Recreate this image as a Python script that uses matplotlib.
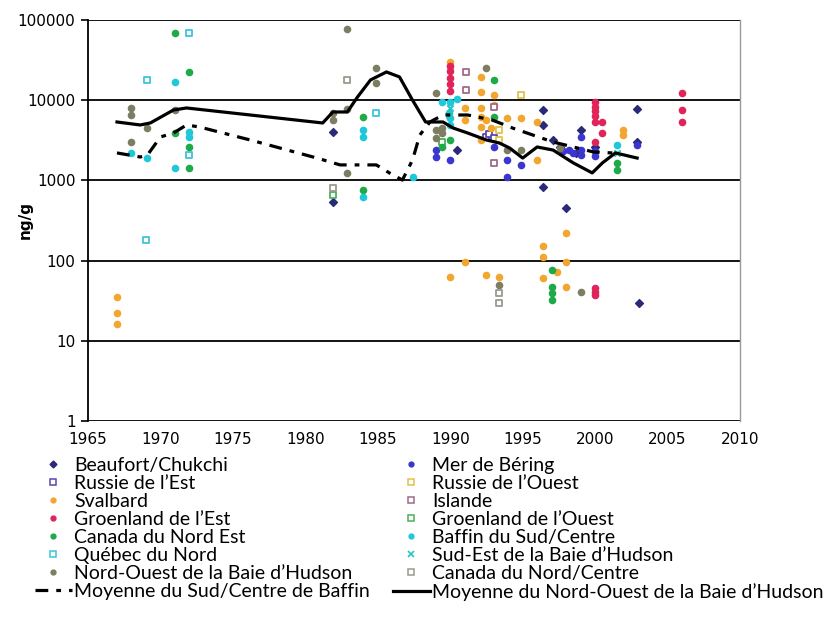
import matplotlib
matplotlib.use("Agg")
import matplotlib.pyplot as plt
from matplotlib.lines import Line2D
from matplotlib.ticker import FixedLocator, FixedFormatter

# ---- data ----
beaufort_yr = [1981.9, 1981.9, 1990.5, 1996.4, 1996.4, 1996.4, 1997.1, 1997.6, 1998.0, 1998.7,
               1999.0, 2000.0, 2002.9, 2002.9, 2003.0]
beaufort_val = [4020, 540, 2400, 7500, 4900, 830, 3200, 2600, 450, 2200,
                4250, 2600, 7800, 3010, 30]

bering_yr = [1989.0, 1989.0, 1990.0, 1993.0, 1993.9, 1993.9, 1994.9, 1997.8, 1998.2, 1998.5,
             1999.0, 1999.0, 1999.0, 2000.0, 2000.0, 2002.9]
bering_val = [2400, 1960, 1800, 2600, 1800, 1100, 1560, 2300, 2400, 2200,
              3500, 2400, 2100, 2300, 2000, 2800]

russie_est_yr = [1992.5, 1992.7, 1993.0]
russie_est_val = [3500, 3800, 3400]

russie_ouest_yr = [1994.9, 1993.4, 1993.4]
russie_ouest_val = [11600, 4250, 3200]

svalbard_yr = [1967.0, 1967.0, 1967.0, 1990.0, 1991.0, 1991.0, 1992.1, 1992.1, 1992.1, 1992.1,
               1992.1, 1992.1, 1992.5, 1992.8, 1993.0, 1993.0, 1993.9, 1994.9, 1996.0, 1996.0,
               1996.4, 1996.4, 1996.4, 1997.4, 1998.0, 1998.0, 1998.0, 1992.5, 1991.0, 1993.4,
               2001.9, 2001.9, 1990.0]
svalbard_val = [35, 22, 16, 30000, 8000, 5660, 19500, 12600, 8000, 6200,
                4600, 3200, 5660, 4500, 11600, 8700, 6000, 6000, 5350, 1800,
                150, 110, 60, 72, 96, 47, 220, 66, 96, 63,
                4250, 3680, 63]

islande_yr = [1991.1, 1991.1, 1993.0, 1993.0]
islande_val = [22500, 13400, 1650, 8300]

groen_est_yr = [1990.0, 1990.0, 1990.0, 1990.0, 1990.0, 2000.0, 2000.0, 2000.0, 2000.0, 2000.0,
                2000.5, 2000.5, 2000.0, 2000.0, 2000.0, 2000.0, 2006.0, 2006.0, 2006.0]
groen_est_val = [27000, 23000, 19000, 16000, 13000, 9500, 8300, 7300, 6300, 5300,
                 5350, 3900, 3010, 45, 41, 37, 12300, 7500, 5350]

groen_ouest_yr = [1981.9, 1989.4]
groen_ouest_val = [660, 3000]

canada_ne_yr = [1971.0, 1972.0, 1971.0, 1972.0, 1972.0, 1984.0, 1984.0, 1990.0, 1989.4, 1993.0,
                1993.0, 1997.0, 1997.0, 1997.0, 1997.0, 2001.5, 2001.5]
canada_ne_val = [68800, 22500, 3900, 2610, 1430, 6170, 760, 3200, 2600, 17800,
                 6200, 76, 47, 40, 32, 1650, 1350]

baffin_yr = [1968.0, 1969.1, 1971.0, 1971.0, 1972.0, 1972.0, 1984.0, 1984.0, 1984.0, 1987.4,
             1989.4, 1990.0, 1990.5, 1989.9, 1990.0, 1990.0, 2001.5]
baffin_val = [2200, 1900, 16900, 1430, 4020, 3480, 4250, 3480, 620, 1100,
              9500, 9500, 10500, 7000, 6000, 4900, 2800]

quebec_yr = [1969.1, 1969.0, 1972.0, 1972.0, 1984.9]
quebec_val = [17800, 180, 68800, 2070, 6920]

se_hudson_yr = [1990.0, 1989.9, 2001.5]
se_hudson_val = [8000, 6500, 2200]

nw_hudson_yr = [1968.0, 1968.0, 1968.0, 1969.1, 1971.0, 1981.9, 1981.9, 1982.9, 1982.9, 1982.9,
                1984.9, 1984.9, 1989.0, 1989.4, 1989.0, 1989.4, 1989.0, 1993.9, 1994.9, 1997.6,
                1999.0, 1993.4, 1992.5]
nw_hudson_val = [8000, 6540, 3010, 4500, 7550, 6920, 5660, 77000, 7800, 1240,
                 25200, 16300, 12300, 4500, 4250, 3900, 3400, 2400, 2400, 2500,
                 41, 50, 25200]

canada_nc_yr = [1982.9, 1981.9, 1993.4, 1993.4]
canada_nc_val = [17800, 800, 40, 30]

# averages (curves)
moy_baffin_yr = [1967.0, 1968.6, 1969.1, 1970.0, 1970.9, 1971.8, 1972.7, 1976.2, 1980.8, 1982.4,
                 1983.8, 1984.9, 1985.8, 1986.7, 1987.4, 1987.9, 1988.6, 1989.5, 1991.2, 1992.9,
                 1994.3, 1995.7, 1997.1, 1998.5, 1999.9, 2001.2]
moy_baffin_val = [2200, 1960, 2070, 3480, 3900, 4910, 4630, 3190, 1900, 1560,
                  1560, 1560, 1240, 1010, 1800, 3680, 5350, 6540, 6540, 5660,
                  4500, 3680, 3010, 2610, 2260, 2200]

moy_nw_yr = [1967.0, 1968.6, 1969.3, 1970.9, 1971.8, 1981.2, 1981.9, 1982.9, 1983.6, 1984.5,
             1985.6, 1986.5, 1987.4, 1988.3, 1989.5, 1990.2, 1991.2, 1992.5, 1993.4, 1994.1,
             1995.0, 1996.0, 1997.1, 1998.5, 1999.8, 2000.5, 2001.4, 2002.9]
moy_nw_val = [5350, 4910, 5200, 7550, 8000, 5200, 7130, 7130, 10960, 17900,
              22500, 19500, 10000, 5350, 5350, 4500, 3900, 3190, 2920, 2535,
              1900, 2610, 2390, 1650, 1240, 1650, 2200, 1900]

x_ticks = [1965, 1970, 1975, 1980, 1985, 1990, 1995, 2000, 2005, 2010]
y_ticks = [1, 10, 100, 1000, 10000, 100000]
y_labels = ['1', '10', '100', '1000', '10000', '100000']

fig = plt.figure(figsize=(8.28, 6.19), dpi=100)
ax = fig.add_axes([88 / 828, 1 - 421 / 619, (740 - 88) / 828, (421 - 20) / 619])

ax.set_yscale('log')
ax.set_xlim(1965, 2010)
ax.set_ylim(1, 100000)

# horizontal grid lines at each decade
for v in y_ticks:
    ax.axhline(v, color='black', lw=1.3, zorder=1)

ms = 20
series = [
    (beaufort_yr, beaufort_val, 'D', '#2b2a78', True, 'Beaufort/Chukchi'),
    (bering_yr, bering_val, 'o', '#3b36d0', True, 'Mer de Béring'),
    (russie_est_yr, russie_est_val, 's', '#5a48b0', False, 'Russie de l\u2019Est'),
    (russie_ouest_yr, russie_ouest_val, 's', '#e0c24a', False, 'Russie de l\u2019Ouest'),
    (svalbard_yr, svalbard_val, 'o', '#f2a630', True, 'Svalbard'),
    (islande_yr, islande_val, 's', '#a06a88', False, 'Islande'),
    (groen_est_yr, groen_est_val, 'o', '#e0245a', True, 'Groenland de l\u2019Est'),
    (groen_ouest_yr, groen_ouest_val, 's', '#4cb05a', False, 'Groenland de l\u2019Ouest'),
    (canada_ne_yr, canada_ne_val, 'o', '#1faa4a', True, 'Canada du Nord Est'),
    (baffin_yr, baffin_val, 'o', '#1ec8d8', True, 'Baffin du Sud/Centre'),
    (quebec_yr, quebec_val, 's', '#3cc4dc', False, 'Québec du Nord'),
    (se_hudson_yr, se_hudson_val, 'x', '#22c8c0', True, 'Sud-Est de la Baie d\u2019Hudson'),
    (nw_hudson_yr, nw_hudson_val, 'o', '#7d7d62', True, 'Nord-Ouest de la Baie d\u2019Hudson'),
    (canada_nc_yr, canada_nc_val, 's', '#9a9a90', False, 'Canada du Nord/Centre'),
]

handles = {}
for xs, ys, mk, col, filled, lab in series:
    if mk == 'x':
        ax.scatter(xs, ys, marker='x', s=ms, color=col, linewidths=1.5, zorder=3)
        h = Line2D([], [], marker='x', ms=4, color=col, ls='none', mew=1.2)
    elif filled:
        size = ms * 0.8 if mk == 'D' else ms
        ax.scatter(xs, ys, marker=mk, s=size, color=col, edgecolors=col, zorder=3)
        h = Line2D([], [], marker=mk, ms=3.5, color=col, ls='none')
    else:
        ax.scatter(xs, ys, marker=mk, s=ms, facecolors='white', edgecolors=col,
                   linewidths=1.3, zorder=3)
        h = Line2D([], [], marker=mk, ms=4, mfc='white', mec=col, ls='none', mew=1.1)
    handles[lab] = h

ax.plot(moy_baffin_yr, moy_baffin_val, color='black', lw=2.3,
        dashes=(4, 2.5, 1.5, 2.5), zorder=4)
ax.plot(moy_nw_yr, moy_nw_val, color='black', lw=2.3, zorder=4)
h_baffin = Line2D([], [], color='black', lw=2.3, dashes=(4, 2.5, 1.5, 2.5))
h_nw = Line2D([], [], color='black', lw=2.3)

ax.yaxis.set_major_locator(FixedLocator(y_ticks))
ax.yaxis.set_major_formatter(FixedFormatter(y_labels))
ax.yaxis.set_minor_locator(FixedLocator([]))
ax.set_xticks(x_ticks)
ax.set_xticklabels([str(t) for t in x_ticks])
ax.tick_params(axis='y', length=5, width=1.2, labelsize=11, pad=4)
ax.tick_params(axis='x', length=0, labelsize=11, pad=8)

for s in ['top', 'bottom']:
    ax.spines[s].set_visible(False)
ax.spines['left'].set_linewidth(1.3)
ax.spines['right'].set_color('#9a9a9a')
ax.spines['right'].set_linewidth(1.0)

fig.text(25 / 828, 1 - 220 / 619, 'ng/g', rotation=90, fontsize=11, fontweight='bold',
         ha='center', va='center')

col1 = ['Beaufort/Chukchi', 'Russie de l\u2019Est', 'Svalbard', 'Groenland de l\u2019Est',
        'Canada du Nord Est', 'Québec du Nord', 'Nord-Ouest de la Baie d\u2019Hudson']
col2 = ['Mer de Béring', 'Russie de l\u2019Ouest', 'Islande', 'Groenland de l\u2019Ouest',
        'Baffin du Sud/Centre', 'Sud-Est de la Baie d\u2019Hudson', 'Canada du Nord/Centre']
leg_handles = [handles[k] for k in col1] + [h_baffin] + [handles[k] for k in col2] + [h_nw]
leg_labels = col1 + ['Moyenne du Sud/Centre de Baffin'] + col2 + ['Moyenne du Nord-Ouest de la Baie d\u2019Hudson']

fig.legend(leg_handles, leg_labels, loc='upper left', bbox_to_anchor=(35 / 828, 1 - 457 / 619),
           ncol=2, frameon=False, prop={'family': 'Lato', 'size': 14},
           handlelength=1.9, handletextpad=0.1, labelspacing=0.05,
           columnspacing=1.2, borderaxespad=0, borderpad=0)

fig.savefig('out.png', dpi=100)
